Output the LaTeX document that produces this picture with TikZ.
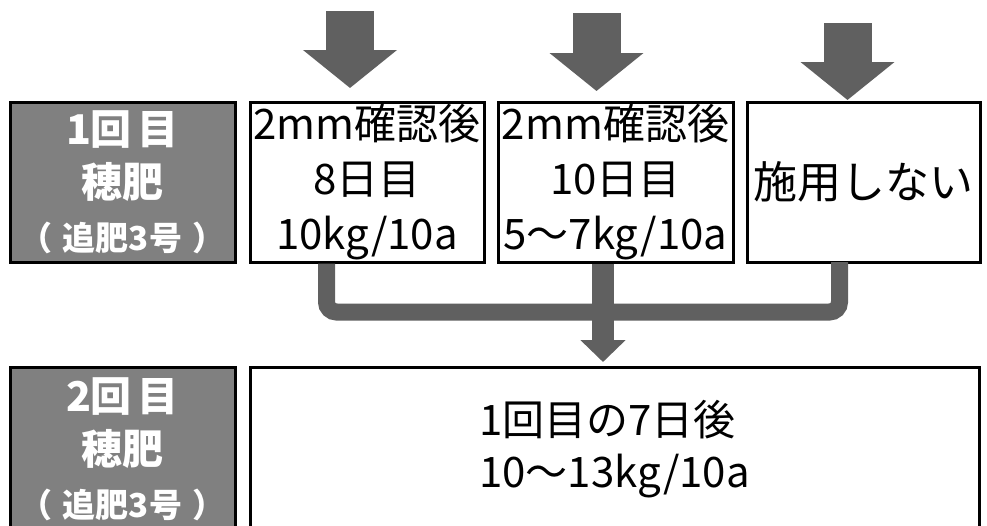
\documentclass[tikz,border=0pt]{standalone}
\usepackage{fontspec}
\setmainfont{Noto Sans CJK JP}
\usetikzlibrary{positioning,calc,arrows.meta}
\definecolor{labelgray}{RGB}{128,128,128}
\definecolor{arrowgray}{RGB}{96,96,96}
\newcommand{\subname}{{\fontsize{33}{40}\selectfont （\kern10pt 追肥3号\kern10pt ）}}
\tikzset{
node distance=14pt, % gap between the boxes of one row
stagebox/.style={rectangle, draw=black, line width=3pt, fill=labelgray, text=white, font=\bfseries\fontsize{41}{53}\selectfont, align=center, minimum width=225pt, inner sep=0pt, outer sep=0pt},
timebox/.style={rectangle, draw=black, line width=3pt, fill=white, align=center, minimum height=160pt, inner sep=0pt, outer sep=0pt, font=\fontsize{42}{55}\selectfont},
fatarrow/.style={arrowgray, line width=48pt, -{Triangle[width=92pt,length=38pt]}}, % arrows from above
joinline/.style={arrowgray, line width=17pt, rounded corners=10pt, shorten <=1.5pt},
thinarrow/.style={arrowgray, line width=22pt, shorten <=1.5pt, -{Triangle[width=44pt,length=22pt]}},
}

\begin{document}
\begin{tikzpicture}[x=1pt,y=1pt]
   \useasboundingbox (0,0) rectangle (987,-525);
   \clip (0,0) rectangle (987,-525);
   \fill[white] (0,0) rectangle (987,-525);
   % first row
   \node[stagebox, minimum height=160pt] (lab1) at (122.5,-182) {1回\kern6pt 目\\穂肥\\\subname};
   \node[timebox, minimum width=234pt] (b1) [right=15pt of lab1] {2mm確認後\\8日目\\10kg/10a};
   \node[timebox, minimum width=235pt] (b2) [right=of b1] {2mm確認後\\10日目\\5〜7kg/10a};
   \node[timebox, minimum width=233pt, font=\fontsize{44}{55}\selectfont] (b3) [right=of b2] {施用しない};
   % second row
   \node[stagebox, minimum height=164pt] (lab2) [below=105pt of lab1] {2回\kern6pt 目\\穂肥\\\subname};
   \node[timebox, minimum width=729pt, minimum height=164pt, align=left, font=\fontsize{42}{52}\selectfont] (res) [right=15pt of lab2] {1回目の7日後\\10〜13kg/10a};
   % arrows from above
   \coordinate (t1) at ([xshift=-17pt,yshift=14pt]b1.north);
   \coordinate (t2) at ([xshift=-19pt,yshift=11pt]b2.north);
   \coordinate (t3) at ([xshift=-16pt,yshift=2pt]b3.north);
   \coordinate (s1) at ([yshift=77pt]t1);
   \coordinate (s2) at ([yshift=78pt]t2);
   \coordinate (s3) at ([yshift=77pt]t3);
   \draw[fatarrow] (s1) -- (t1);
   \draw[fatarrow] (s2) -- (t2);
   \draw[fatarrow] (s3) -- (t3);
   % joining the first row
   \draw[joinline] ([xshift=-40.5pt]b1.south) -- ++(0,-50) -| ([xshift=-24pt]b3.south);
   \coordinate (m1) at ([xshift=-12.5pt]b2.south);
   \coordinate (m2) at ($(m1 |- res.north)+(0,5)$);
   \draw[thinarrow] (m1) -- (m2);
\end{tikzpicture}
\end{document}
